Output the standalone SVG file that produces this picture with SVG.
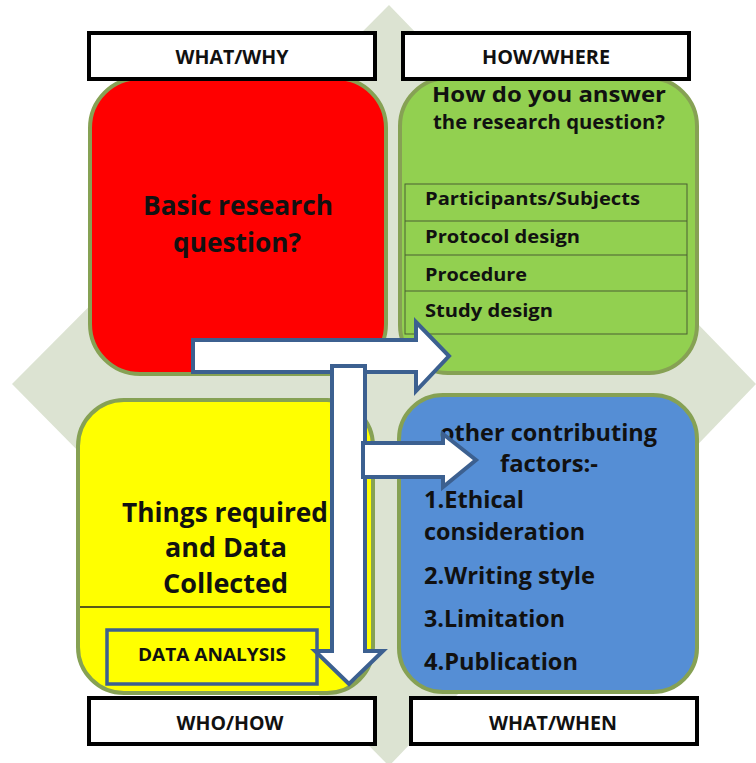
<svg xmlns="http://www.w3.org/2000/svg" width="756" height="763" viewBox="0 0 756 763">
  <defs>
    <style>
      text { font-family: "Open Sans", Lato, "Liberation Sans", sans-serif; font-weight: 700; fill: #111; }
      .quad { stroke: #86a154; stroke-width: 4; }
      .tag rect { fill: #fff; stroke: #000; stroke-width: 4; }
      .tag text { font-size: 19px; text-anchor: middle; }
      .big { font-size: 26px; text-anchor: middle; }
      .row { font-size: 18.5px; }
      .item { font-size: 23px; }
      .grid { fill: none; stroke: #4a5f33; stroke-width: 1; }
      .arrow { fill: #fff; stroke: #3c6090; stroke-width: 4; stroke-linejoin: miter; }
    </style>
  </defs>

  <!-- pale backdrop diamond -->
  <polygon points="389,5 756,384 389,766 12,384" fill="#dce3d2"/>

  <!-- WHAT/WHY quadrant -->
  <g id="research-question">
    <rect class="quad" x="90" y="78" width="296" height="296" rx="50" fill="#ff0000"/>
    <text class="big" x="238" y="215" textLength="190" lengthAdjust="spacingAndGlyphs">Basic research</text>
    <text class="big" x="237" y="252" textLength="128" lengthAdjust="spacingAndGlyphs">question?</text>
  </g>

  <!-- HOW/WHERE quadrant -->
  <g id="answer-method">
    <rect class="quad" x="400" y="78" width="297" height="295" rx="48" fill="#92d050"/>
    <text x="549" y="102" font-size="22" text-anchor="middle" textLength="234" lengthAdjust="spacingAndGlyphs">How do you answer</text>
    <text x="549" y="129" font-size="19" text-anchor="middle" textLength="232" lengthAdjust="spacingAndGlyphs">the research question?</text>
    <rect class="grid" x="405" y="184" width="282" height="150"/>
    <line class="grid" x1="405" y1="221" x2="687" y2="221"/>
    <line class="grid" x1="405" y1="255" x2="687" y2="255"/>
    <line class="grid" x1="405" y1="291" x2="687" y2="291"/>
    <text class="row" x="425" y="205" textLength="215" lengthAdjust="spacingAndGlyphs">Participants/Subjects</text>
    <text class="row" x="425" y="243" textLength="155" lengthAdjust="spacingAndGlyphs">Protocol design</text>
    <text class="row" x="425" y="281" textLength="102" lengthAdjust="spacingAndGlyphs">Procedure</text>
    <text class="row" x="425" y="317" textLength="128" lengthAdjust="spacingAndGlyphs">Study design</text>
  </g>

  <!-- WHO/HOW quadrant -->
  <g id="data-collected">
    <rect class="quad" x="78" y="400" width="295" height="293" rx="46" fill="#ffff00"/>
    <text class="big" x="225" y="522" font-size="27" textLength="206" lengthAdjust="spacingAndGlyphs">Things required</text>
    <text class="big" x="226" y="557" font-size="27" textLength="122" lengthAdjust="spacingAndGlyphs">and Data</text>
    <text class="big" x="225.5" y="593" font-size="27" textLength="125" lengthAdjust="spacingAndGlyphs">Collected</text>
    <line x1="80" y1="607" x2="333" y2="607" stroke="#222" stroke-width="1.5"/>
  </g>

  <g id="data-analysis">
    <rect x="107" y="630" width="210" height="54" fill="#ffff00" stroke="#3c6090" stroke-width="3.5"/>
    <text x="212" y="661" font-size="18" text-anchor="middle" textLength="148" lengthAdjust="spacingAndGlyphs">DATA ANALYSIS</text>
  </g>

  <!-- WHAT/WHEN quadrant -->
  <g id="other-factors">
    <rect class="quad" x="399" y="395" width="298" height="297" rx="44" fill="#558ed5"/>
    <text class="item" x="548.5" y="441" text-anchor="middle" textLength="217" lengthAdjust="spacingAndGlyphs">other contributing</text>
    <text class="item" x="549" y="472" text-anchor="middle" textLength="98" lengthAdjust="spacingAndGlyphs">factors:-</text>
    <text class="item" x="424" y="508" textLength="100" lengthAdjust="spacingAndGlyphs">1.Ethical</text>
    <text class="item" x="424" y="540" textLength="161" lengthAdjust="spacingAndGlyphs">consideration</text>
    <text class="item" x="424" y="584" textLength="171" lengthAdjust="spacingAndGlyphs">2.Writing style</text>
    <text class="item" x="424" y="627" textLength="141" lengthAdjust="spacingAndGlyphs">3.Limitation</text>
    <text class="item" x="424" y="670" textLength="154" lengthAdjust="spacingAndGlyphs">4.Publication</text>
  </g>

  <!-- heading tags -->
  <g id="tag-what-why" class="tag">
    <rect x="89" y="33" width="286" height="46"/>
    <text x="232" y="64" textLength="113" lengthAdjust="spacingAndGlyphs">WHAT/WHY</text>
  </g>
  <g id="tag-how-where" class="tag">
    <rect x="403" y="33" width="286" height="46"/>
    <text x="546" y="64" textLength="128" lengthAdjust="spacingAndGlyphs">HOW/WHERE</text>
  </g>
  <g id="tag-who-how" class="tag">
    <rect x="89" y="698" width="286" height="46"/>
    <text x="230" y="730" textLength="107" lengthAdjust="spacingAndGlyphs">WHO/HOW</text>
  </g>
  <g id="tag-what-when" class="tag">
    <rect x="411" y="698" width="286" height="46"/>
    <text x="553" y="730" textLength="128" lengthAdjust="spacingAndGlyphs">WHAT/WHEN</text>
  </g>

  <!-- block arrows -->
  <g id="connectors">
    <path class="arrow" d="M193,340 H416 V322 L449,356 L416,391 V372 H193 Z"/>
    <path class="arrow" d="M332,366 H365 V651 H383 L349,684 L315,651 H332 Z"/>
    <path class="arrow" d="M363,443 H443 V434 L476,460 L443,487 V477 H363 Z"/>
  </g>
</svg>
